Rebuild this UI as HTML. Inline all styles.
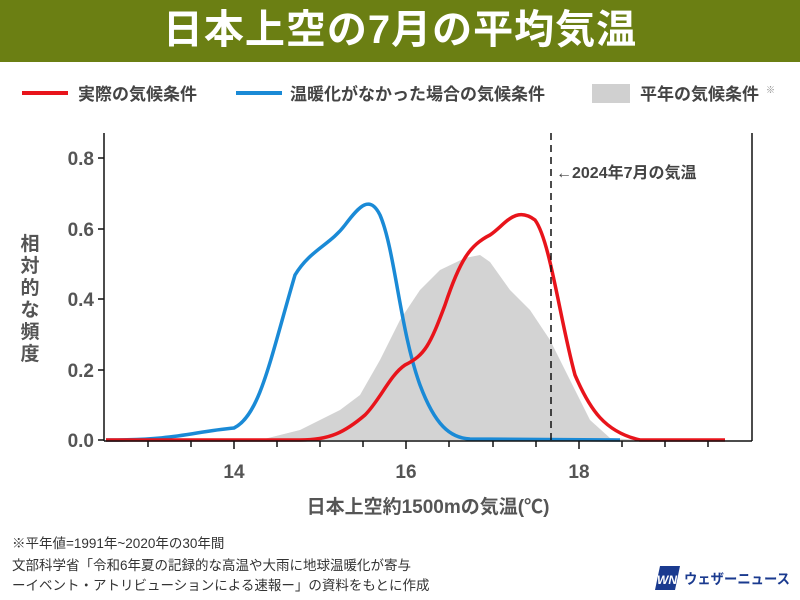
<!DOCTYPE html>
<html><head><meta charset="utf-8"><style>
body{margin:0;width:800px;height:600px;background:#fff;overflow:hidden;font-family:"Liberation Sans","Noto Sans CJK JP",sans-serif;}
.hdr{position:absolute;left:0;top:0;width:800px;height:62px;background:#6b7f13;color:#fff;font-weight:bold;font-size:40px;text-align:center;line-height:60px;letter-spacing:1px}
svg{position:absolute;left:0;top:0}
</style></head><body>
<div class="hdr">日本上空の7月の平均気温</div>
<svg width="800" height="600" font-family="Liberation Sans, Noto Sans CJK JP, sans-serif">
<g font-size="17" fill="#444" font-weight="bold">
<line x1="22" y1="93" x2="68" y2="93" stroke="#e8141b" stroke-width="4"/>
<text x="78" y="100">実際の気候条件</text>
<line x1="236" y1="93" x2="282" y2="93" stroke="#1a8ad6" stroke-width="4"/>
<text x="290" y="100">温暖化がなかった場合の気候条件</text>
<rect x="592" y="84" width="38" height="19" fill="#d0d0d0"/>
<text x="640" y="100">平年の気候条件</text>
<text x="766" y="93" font-size="9" fill="#888">※</text>
</g>
<path d="M260,440 L300,430 340,410 360,395 380,360 400,320 420,290 440,270 465,258 480,255 490,262 510,290 530,310 550,340 570,380 590,420 610,438 640,440 Z" fill="#d3d3d3"/>
<path d="M106,440 C180,440 190,432 234,428 C260,415 270,360 295,275 C310,250 330,245 345,225 C360,205 370,195 380,215 C395,250 400,330 420,385 C435,425 450,438 470,439 L620,440" fill="none" stroke="#1a8ad6" stroke-width="3.5"/>
<path d="M106,440 L300,440 C330,440 345,432 365,415 C380,400 390,375 405,365 C425,355 430,345 445,305 C460,260 470,245 490,235 C505,225 515,205 535,220 C550,240 560,320 575,375 C590,410 605,432 640,440 L725,440" fill="none" stroke="#e8141b" stroke-width="3.5"/>
<line x1="551" y1="133" x2="551" y2="440" stroke="#111" stroke-width="1.5" stroke-dasharray="7,5"/>
<text x="556" y="178" font-size="16" fill="#444" font-weight="bold">←2024年7月の気温</text>
<g stroke="#111" stroke-width="1.5">
<line x1="104" y1="133" x2="104" y2="441"/>
<line x1="752" y1="133" x2="752" y2="441"/>
<line x1="104" y1="441" x2="752" y2="441"/>
<line x1="98" y1="158" x2="104" y2="158"/><line x1="98" y1="229" x2="104" y2="229"/><line x1="98" y1="299" x2="104" y2="299"/><line x1="98" y1="370" x2="104" y2="370"/><line x1="98" y1="440" x2="104" y2="440"/>
<line x1="148" y1="441" x2="148" y2="447"/><line x1="191" y1="441" x2="191" y2="447"/><line x1="234" y1="441" x2="234" y2="449"/><line x1="277" y1="441" x2="277" y2="447"/><line x1="320" y1="441" x2="320" y2="447"/><line x1="363" y1="441" x2="363" y2="447"/><line x1="406" y1="441" x2="406" y2="449"/><line x1="449" y1="441" x2="449" y2="447"/><line x1="493" y1="441" x2="493" y2="447"/><line x1="536" y1="441" x2="536" y2="447"/><line x1="579" y1="441" x2="579" y2="449"/><line x1="622" y1="441" x2="622" y2="447"/><line x1="665" y1="441" x2="665" y2="447"/><line x1="708" y1="441" x2="708" y2="447"/>
</g>
<g font-size="19" fill="#555" font-weight="bold" text-anchor="end">
<text x="94" y="165">0.8</text><text x="94" y="236">0.6</text><text x="94" y="306">0.4</text><text x="94" y="377">0.2</text><text x="94" y="447">0.0</text>
</g>
<g font-size="19" fill="#555" font-weight="bold" text-anchor="middle">
<text x="234" y="478">14</text><text x="406" y="478">16</text><text x="579" y="478">18</text>
<text x="428" y="513" font-size="19">日本上空約1500mの気温(℃)</text>
</g>
<g font-size="19" fill="#555" font-weight="bold" text-anchor="middle">
<text x="30" y="250">相</text><text x="30" y="272">対</text><text x="30" y="294">的</text><text x="30" y="316">な</text><text x="30" y="338">頻</text><text x="30" y="360">度</text>
</g>
<g font-size="13.5" fill="#333">
<text x="12" y="548">※平年値=1991年~2020年の30年間</text>
<text x="12" y="570">文部科学省「令和6年夏の記録的な高温や大雨に地球温暖化が寄与</text>
<text x="12" y="590">ーイベント・アトリビューションによる速報ー」の資料をもとに作成</text>
</g>
<polygon points="660,566 680,566 675,590 655,590" fill="#1a3a8f"/>
<text x="657" y="584" font-size="12" fill="#fff" font-weight="bold" font-style="italic">WN</text>
<text x="684" y="584" font-size="14" fill="#1a3a8f" font-weight="bold" textLength="106" lengthAdjust="spacingAndGlyphs">ウェザーニュース</text>
</svg>
</body></html>
